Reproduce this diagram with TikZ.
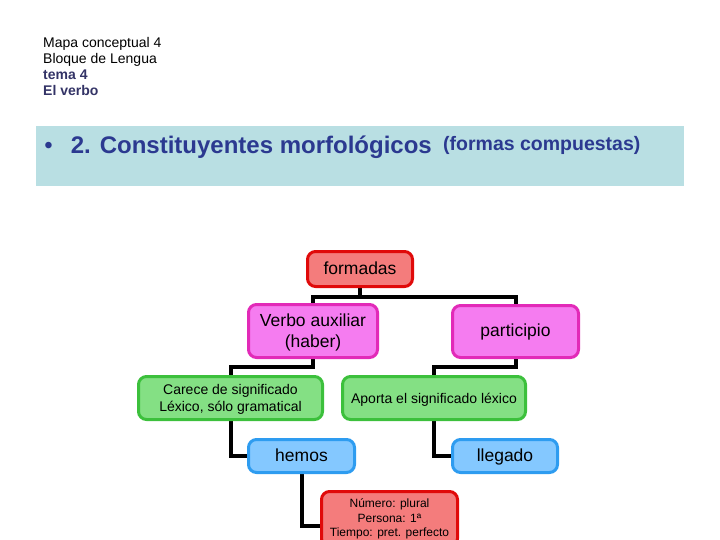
\documentclass[tikz,border=0pt]{standalone}
\usepackage{fontspec}
\setmainfont{Liberation Sans}
\usetikzlibrary{backgrounds}
\definecolor{band}{HTML}{B9DFE3}
\definecolor{titleblue}{HTML}{2B3990}
\definecolor{navy}{HTML}{333366}
\definecolor{redfill}{HTML}{F47C7C}
\definecolor{redline}{HTML}{E00A0A}
\definecolor{pinkfill}{HTML}{F57CF0}
\definecolor{pinkline}{HTML}{E22AB8}
\definecolor{greenfill}{HTML}{84E084}
\definecolor{greenline}{HTML}{3CC03C}
\definecolor{bluefill}{HTML}{84C8FF}
\definecolor{blueline}{HTML}{2E9CF0}
\begin{document}
\begin{tikzpicture}[x=1pt,y=-1pt,
  cbox/.style={rounded corners=8pt, line width=3pt, align=center, inner sep=0pt, text=black},
  redbox/.style={cbox, draw=redline, fill=redfill},
  pinkbox/.style={cbox, draw=pinkline, fill=pinkfill},
  greenbox/.style={cbox, draw=greenline, fill=greenfill},
  bluebox/.style={cbox, draw=blueline, fill=bluefill},
  big/.style={font=\fontsize{17.5}{21}\selectfont},
  oneline/.style={text height=13pt, text depth=3pt},
  mid/.style={font=\fontsize{14}{17}\selectfont},
  small/.style={font=\fontsize{12}{14.5}\selectfont},
  head/.style={anchor=base west, inner sep=0pt, font=\fontsize{14}{16}\selectfont},
  link/.style={line width=4pt, black}]
\useasboundingbox (0,0) rectangle (720,540);
\clip (0,0) rectangle (720,540);

% header
\node[head] (h1) at (43,47.3) {Mapa conceptual 4};
\node[head] (h2) at (43,63.3) {Bloque de Lengua};
\node[head, text=navy, font=\bfseries\fontsize{14}{16}\selectfont] (h3) at (43,79.3) {tema 4};
\node[head, text=navy, font=\bfseries\fontsize{14}{16}\selectfont] (h4) at (43,95.3) {El verbo};

% title band
\fill[band] (36,126) rectangle (684,186);
\node[anchor=base, inner sep=0pt, text=titleblue, font=\fontsize{24}{28}\selectfont] (bul) at (48.5,154) {•};
\node[anchor=base west, inner sep=0pt, text=titleblue, font=\bfseries\fontsize{24}{28}\selectfont] (t1) at (70.7,154) {2. Constituyentes morfológicos};
\node[anchor=base west, inner sep=0pt, text=titleblue, font=\bfseries\fontsize{19.5}{23}\selectfont] (t2) at (443,151) {(formas compuestas)};

% boxes
\node[redbox, big, oneline, minimum width=105, minimum height=35] (form) at (360,269) {formadas};
\node[pinkbox, big, minimum width=129, minimum height=53, text depth=0pt] (verbo) at (313,331) {Verbo auxiliar\\(haber)};
\node[pinkbox, big, oneline, minimum width=126, minimum height=52] (part) at (515.5,331.5) {participio};
\node[greenbox, mid, minimum width=184, minimum height=43, text depth=0pt] (carece) at (230.5,398) {Carece de significado\\Léxico, sólo gramatical};
\node[greenbox, mid, oneline, minimum width=183, minimum height=43] (aporta) at (434,398) {Aporta el significado léxico};
\node[bluebox, big, oneline, minimum width=106, minimum height=33] (hemos) at (301.5,456) {hemos};
\node[bluebox, big, oneline, minimum width=105, minimum height=33] (llegado) at (505,456) {llegado};
\node[redbox, small, minimum width=136, minimum height=55] (rasgos) at (389.5,519) {Número: plural\\Persona: 1ª\\Tiempo: pret. perfecto};

% connectors
\begin{scope}[on background layer]
  \coordinate (j1) at (360,297);
  \draw[link] (form.south) -- (j1);
  \draw[link] (verbo.north) |- (j1) -| (part.north);
  \draw[link] (verbo.south) -- ++(0,8) -| (carece.north);
  \draw[link] (part.south) -- ++(0,8) -| (aporta.north);
  \draw[link] (carece.south) |- (hemos.west);
  \draw[link] (aporta.south) |- (llegado.west);
  \draw[link] (hemos.south) |- ([yshift=-6.5pt]rasgos.west);
\end{scope}
\end{tikzpicture}
\end{document}
